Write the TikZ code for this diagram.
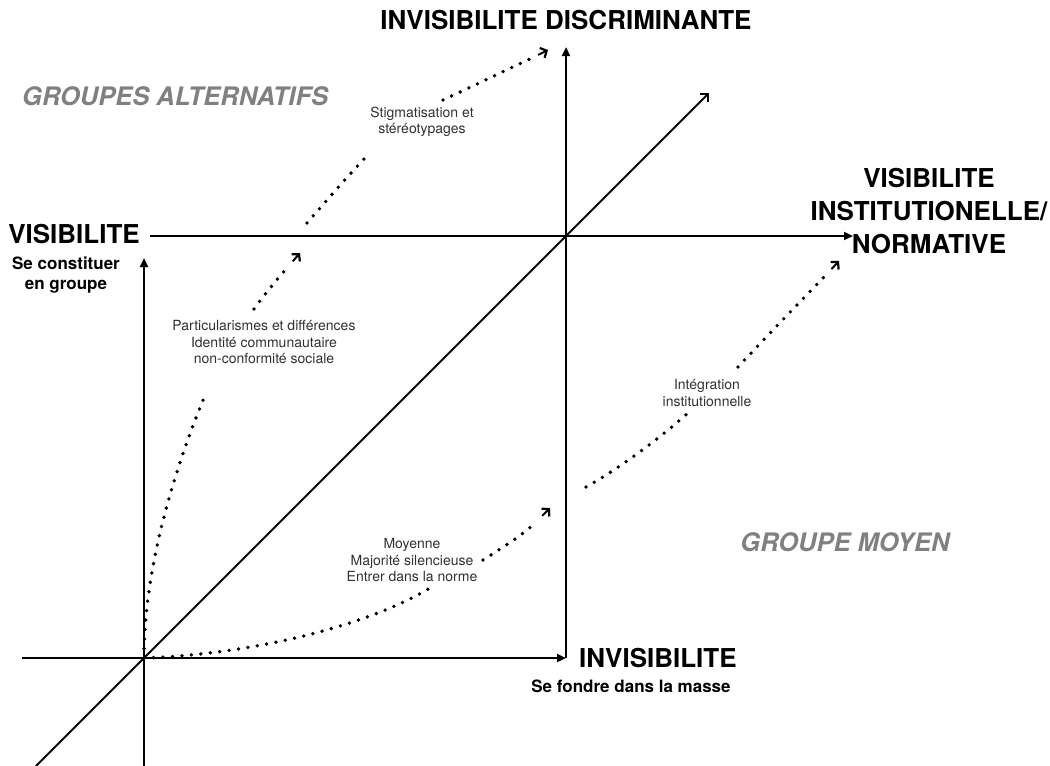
\documentclass[tikz,border=0pt]{standalone}
\usepackage{fontspec}
\setmainfont{TeX Gyre Heros}
\usetikzlibrary{arrows.meta,calc}
\definecolor{groupgray}{HTML}{808080}
\definecolor{labelgray}{HTML}{303030}
\begin{document}
\begin{tikzpicture}[x=1pt,y=-1pt,
  axis/.style={line width=2.2pt, -{Triangle[length=9pt,width=8pt]}},
  diag/.style={line width=1.8pt, -{Straight Barb[length=6pt,width=12pt,line width=1.8pt]}},
  dots/.style={line width=3.8pt, line cap=round, dash pattern=on 0pt off 9.5pt},
  tipseg/.style={line width=2pt, -{Straight Barb[length=5pt,width=11pt,line width=2.2pt]}},
  bigtitle/.style={font=\fontsize{26}{33}\selectfont\bfseries, inner sep=0pt},
  subtitle/.style={font=\fontsize{17}{20}\selectfont\bfseries, inner sep=0pt},
  grouplabel/.style={font=\fontsize{25.5}{30}\selectfont\bfseries\itshape, text=groupgray, inner sep=0pt},
  smalllabel/.style={font=\fontsize{14}{16.5}\selectfont, text=labelgray, align=center, inner sep=0pt},
]
\useasboundingbox (0,0) rectangle (1050,766);

% key coordinates
\coordinate (O) at (144,658);
\coordinate (Obl) at (36,766);
\coordinate (Otr) at (709,93);
\coordinate (leftaxbot) at (144,766);
\coordinate (leftaxtop) at (144,258);
\coordinate (botaxleft) at (22,658);
\coordinate (botaxright) at (566,658);
\coordinate (rightaxtop) at (566,47);
\coordinate (topaxleft) at (150,236);
\coordinate (topaxright) at (853,236);

% axes
\draw[axis] (leftaxbot) -- (leftaxtop);
\draw[axis] (botaxleft) -- (botaxright);
\draw[axis] (botaxright) -- (rightaxtop);
\draw[axis] (topaxleft) -- (topaxright);
\draw[diag] (Obl) -- (Otr);

% titles
\node[bigtitle, anchor=base] (tInvDisc) at (566,29) {INVISIBILITE DISCRIMINANTE};
\node[bigtitle, anchor=base east] (tVis) at (140,243) {VISIBILITE};
\node[subtitle, align=center] (tVisSub) at (66,275) {Se constituer\\en groupe};
\node[bigtitle, align=center] (tVisInst) at (929,211) {VISIBILITE\\INSTITUTIONELLE/\\NORMATIVE};
\node[bigtitle, anchor=base west] (tInv) at (579,667) {INVISIBILITE};
\node[subtitle, anchor=base] (tInvSub) at (631,692) {Se fondre dans la masse};
\node[grouplabel, anchor=base west] (gAlt) at (22,105) {GROUPES ALTERNATIFS};
\node[grouplabel, anchor=base] (gMoy) at (845,551) {GROUPE MOYEN};

% small labels
\node[smalllabel] (lStig) at (422,122) {Stigmatisation et\\stéréotypages};
\node[smalllabel] (lPart) at (264,342) {Particularismes et différences\\Identité communautaire\\non-conformité sociale};
\node[smalllabel] (lInt) at (707,393) {Intégration\\institutionnelle};
\node[smalllabel] (lMoy) at (412,560) {Moyenne\\Majorité silencieuse\\Entrer dans la norme};

% dotted paths (each ends with a solid open arrow tip)
\coordinate (a1) at (206,393);
\coordinate (a2) at (254,309);
\coordinate (a3) at (286,269);
\coordinate (a4) at (300,253);
\draw[dots] (O) .. controls (144,560) and (180,455) .. (a1);
\draw[dots] (a2) .. controls (264,295) and (275,282) .. (a3);
\draw[tipseg] ($(a4)!11pt!(a3)$) -- (a4);

\coordinate (b0) at (307,223);
\coordinate (b1) at (365,158);
\coordinate (b2) at (443,100);
\coordinate (b3) at (532,58);
\coordinate (b4) at (548,50);
\draw[dots] (b0) .. controls (327,200) and (347,177) .. (b1);
\draw[dots] (b2) .. controls (473,86) and (502,72) .. (b3);
\draw[tipseg] ($(b4)!11pt!(b3)$) -- (b4);

\coordinate (c1) at (430,588);
\coordinate (c2) at (483,560);
\coordinate (c3) at (535,523);
\coordinate (c4) at (550,508);
\draw[dots] (O) .. controls (240,655) and (360,630) .. (c1);
\draw[dots] (c2) .. controls (502,548) and (521,536) .. (c3);
\draw[tipseg] ($(c4)!11pt!(c3)$) -- (c4);

\coordinate (d0) at (586,487);
\coordinate (d1) at (688,413);
\coordinate (d2) at (738,367);
\coordinate (d3) at (825,276);
\coordinate (d4) at (839,261);
\draw[dots] (d0) .. controls (620,468) and (660,438) .. (d1);
\draw[dots] (d2) .. controls (766,337) and (796,306) .. (d3);
\draw[tipseg] ($(d4)!11pt!(d3)$) -- (d4);
\end{tikzpicture}
\end{document}
